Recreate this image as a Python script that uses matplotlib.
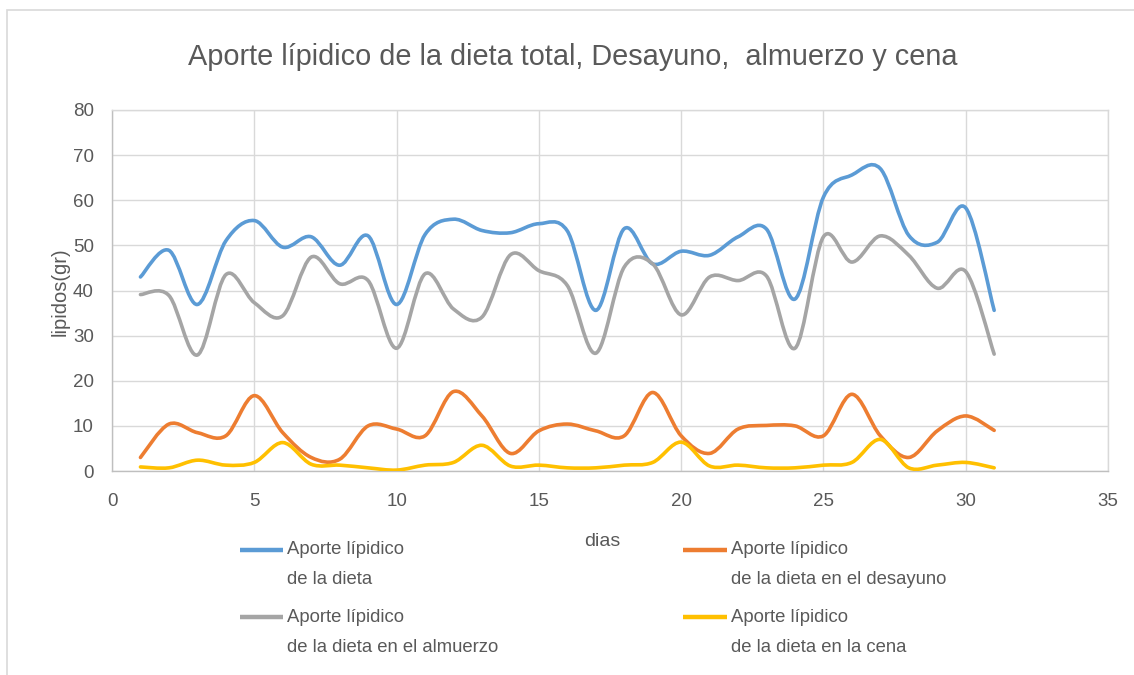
import numpy as np
import matplotlib
matplotlib.use("Agg")
import matplotlib.pyplot as plt
from matplotlib.path import Path
from matplotlib.patches import PathPatch, Rectangle
from matplotlib.lines import Line2D

plt.rcParams['font.family'] = ['Liberation Sans Narrow', 'Liberation Sans', 'DejaVu Sans']

# data
dias = list(range(1, 32))
total = [43.0, 48.9, 36.9, 51.0, 55.5, 49.6, 51.9, 45.6, 52.1, 36.9,
         52.4, 55.8, 53.3, 52.8, 54.8, 53.2, 35.6, 53.7, 45.9, 48.7,
         47.8, 51.9, 53.6, 38.1, 60.7, 65.6, 67.0, 52.2, 50.7, 58.3, 35.6]
desayuno = [3.0, 10.4, 8.5, 7.8, 16.7, 8.5, 3.0, 2.6, 10.0, 9.3,
            7.8, 17.6, 12.2, 3.9, 8.9, 10.4, 8.9, 7.8, 17.4, 7.8,
            3.9, 9.3, 10.1, 10.0, 7.8, 17.0, 7.8, 3.0, 8.9, 12.2, 9.0]
almuerzo = [39.1, 38.9, 25.7, 43.5, 37.3, 34.4, 47.4, 41.5, 42.2, 27.2,
            43.7, 35.9, 34.1, 47.9, 44.4, 41.1, 26.1, 45.2, 45.9, 34.6,
            43.0, 42.2, 43.2, 27.2, 51.9, 46.3, 52.1, 47.8, 40.5, 44.2, 25.9]
cena = [0.9, 0.7, 2.4, 1.3, 1.9, 6.3, 1.5, 1.3, 0.7, 0.2,
        1.3, 1.9, 5.7, 1.1, 1.3, 0.7, 0.7, 1.3, 1.9, 6.4,
        1.1, 1.3, 0.7, 0.7, 1.3, 1.9, 7.0, 0.7, 1.3, 1.9, 0.7]

labels = ['Aporte lípidico\nde la dieta',
          'Aporte lípidico\nde la dieta en el desayuno',
          'Aporte lípidico\nde la dieta en el almuerzo',
          'Aporte lípidico\nde la dieta en la cena']
colors = ['#5B9BD5', '#ED7D31', '#A5A5A5', '#FFC000']
text_color = '#595959'

W, H = 1134, 675


def smooth_path(x, y):
    """Excel-like smoothed line: cubic Bezier through every point."""
    pts = np.column_stack([np.asarray(x, float), np.asarray(y, float)])
    n = len(pts)
    verts = [pts[0]]
    codes = [Path.MOVETO]
    for i in range(n - 1):
        p0 = pts[i - 1] if i > 0 else pts[i]
        p1 = pts[i]
        p2 = pts[i + 1]
        p3 = pts[i + 2] if i + 2 < n else pts[i + 1]
        verts += [p1 + (p2 - p0) / 6.0, p2 - (p3 - p1) / 6.0, p2]
        codes += [Path.CURVE4] * 3
    return Path(verts, codes)


fig = plt.figure(figsize=(W / 100, H / 100), dpi=100)
ax = fig.add_axes([112 / W, 1 - 471 / H, (1108 - 112) / W, (471 - 110) / H])

# chart area border
fig.patches.append(Rectangle((7 / W, -0.01), 1.02, 1 - 10 / H + 0.01,
                             transform=fig.transFigure, fill=False,
                             edgecolor='#d9d9d9', linewidth=1.2))

series = [total, desayuno, almuerzo, cena]
for vals, col in zip(series, colors):
    ax.add_patch(PathPatch(smooth_path(dias, vals), fill=False, edgecolor=col,
                           linewidth=2.6, capstyle='round', joinstyle='round', zorder=3))

ax.set_xlim(0, 35)
ax.set_ylim(0, 80)
ax.set_xticks(range(0, 36, 5))
ax.set_yticks(range(0, 81, 10))
ax.grid(True, color='#d9d9d9', linewidth=1)
ax.set_axisbelow(True)
for s in ax.spines.values():
    s.set_color('#d9d9d9')
    s.set_linewidth(1)
ax.spines['left'].set_color('#bfbfbf')
ax.spines['bottom'].set_color('#bfbfbf')
ax.tick_params(length=0, labelsize=13.5, labelcolor=text_color)
ax.tick_params(axis='x', pad=16)
ax.tick_params(axis='y', pad=13)

ax.set_xlabel('dias', fontsize=14, color=text_color)
ax.xaxis.set_label_coords((602 - 112) / (1108 - 112), -(533 - 471) / (471 - 110))
ax.set_ylabel('lipidos(gr)', fontsize=14.5, color=text_color)
ax.yaxis.set_label_coords(-(112 - 60) / (1108 - 112), (471 - 292) / (471 - 110))
ax.yaxis.label.set_va('center')

fig.text(573 / W, 1 - 57 / H, 'Aporte lípidico de la dieta total, Desayuno,  almuerzo y cena',
         ha='center', va='center', fontsize=20.8, color=text_color)

# legend laid out like the Excel one: 2 columns, handle level with first text line
cols_x = [(240, 283, 287), (683, 727, 731)]
rows_y = [(550, 580), (617, 647)]
for k, (lab, col) in enumerate(zip(labels, colors)):
    x0, x1, xt = cols_x[k % 2]
    y1, y2 = rows_y[k // 2]
    fig.add_artist(Line2D([x0 / W, x1 / W], [1 - y1 / H, 1 - y1 / H],
                          transform=fig.transFigure, color=col, linewidth=3.2,
                          solid_capstyle='butt'))
    first, second = lab.split('\n')
    fig.text(xt / W, 1 - y1 / H, first, ha='left', va='center',
             fontsize=13.3, color=text_color)
    fig.text(xt / W, 1 - y2 / H, second, ha='left', va='center',
             fontsize=13.3, color=text_color)

fig.savefig('out.png', dpi=100)
